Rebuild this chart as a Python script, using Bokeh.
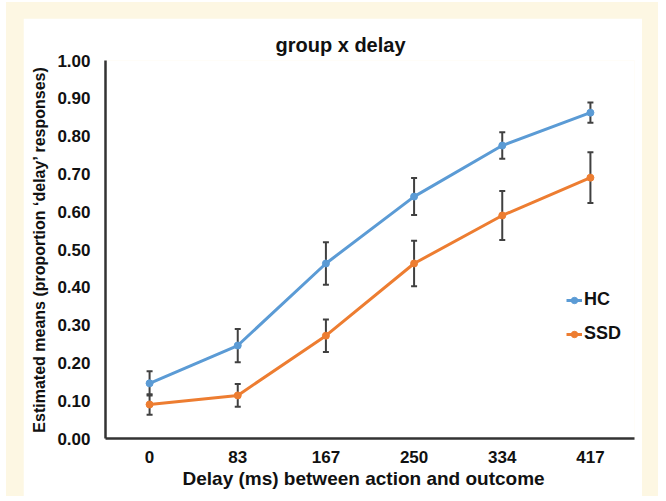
from bokeh.plotting import figure
from bokeh.models import (ColumnDataSource, Whisker, TeeHead, FactorRange, FixedTicker,
                          NumeralTickFormatter, Legend, LegendItem, Title, GlobalInlineStyleSheet)
from bokeh.layouts import column
from bokeh.embed import file_html
from bokeh.resources import INLINE

# ---- data ----
delays = ["0", "83", "167", "250", "334", "417"]
hc_means = [0.146, 0.246, 0.463, 0.640, 0.775, 0.862]
hc_err = [0.032, 0.044, 0.056, 0.049, 0.035, 0.027]
ssd_means = [0.090, 0.114, 0.272, 0.463, 0.590, 0.690]
ssd_err = [0.027, 0.030, 0.043, 0.060, 0.065, 0.067]
y_ticks = [0.0, 0.1, 0.2, 0.3, 0.4, 0.5, 0.6, 0.7, 0.8, 0.9, 1.0]
series_names = ["HC", "SSD"]

HC_COLOR = "#5B9BD5"
SSD_COLOR = "#ED7D31"
ERR_COLOR = "#404040"
CREAM = "#FDF7E3"
FONT = "Liberation Sans"
TXT = "#111111"


def make_source(means, errs):
    return ColumnDataSource(dict(
        x=delays,
        y=means,
        upper=[m + e for m, e in zip(means, errs)],
        lower=[m - e for m, e in zip(means, errs)],
    ))


hc_src = make_source(hc_means, hc_err)
ssd_src = make_source(ssd_means, ssd_err)

p = figure(
    x_range=FactorRange(factors=delays, range_padding=0),
    y_range=(0, 1),
    width=619, height=478,
    output_backend="svg", toolbar_location=None,
    min_border_left=82, min_border_right=8, min_border_top=42, min_border_bottom=58,
    background_fill_color="white", border_fill_color="white",
    outline_line_color=None,
    margin=(16, 0, 0, 17),
)

# title
p.title.text = "group x delay"
p.title.align = "left"
p.title.offset = 170
p.title.text_font = FONT
p.title.text_font_size = "20px"
p.title.text_font_style = "bold"
p.title.text_color = TXT
p.title.standoff = 10

p.xgrid.grid_line_color = None
p.ygrid.grid_line_color = None

# axes
for ax in (p.xaxis[0], p.yaxis[0]):
    ax.axis_line_color = "#333333"
    ax.axis_line_width = 2.5
    ax.major_tick_line_color = None
    ax.minor_tick_line_color = None
    ax.major_tick_out = 0
    ax.major_tick_in = 0
    ax.major_label_text_font = FONT
    ax.major_label_text_font_size = "17px"
    ax.major_label_text_font_style = "bold"
    ax.major_label_text_color = TXT

p.yaxis.ticker = FixedTicker(ticks=y_ticks)
p.yaxis.formatter = NumeralTickFormatter(format="0.00")
p.yaxis.major_label_standoff = 15
p.yaxis.axis_label = "Estimated means (proportion \u2018delay\u2019 responses)"
p.yaxis.axis_label_text_font = FONT
p.yaxis.axis_label_text_font_size = "16px"
p.yaxis.axis_label_text_font_style = "bold"
p.yaxis.axis_label_text_color = TXT
p.yaxis.axis_label_standoff = 6

p.xaxis.major_label_standoff = 12

xlab = Title(text="Delay (ms) between action and outcome", align="left", offset=77,
             text_font=FONT, text_font_size="19px", text_font_style="bold",
             text_color=TXT, standoff=0)
p.add_layout(xlab, "below")

# error bars
for src in (hc_src, ssd_src):
    w = Whisker(base="x", upper="upper", lower="lower", source=src, dimension="height",
                line_color=ERR_COLOR, line_width=2, level="underlay",
                upper_head=TeeHead(size=6, line_color=ERR_COLOR, line_width=2),
                lower_head=TeeHead(size=6, line_color=ERR_COLOR, line_width=2))
    p.add_layout(w)

# series
hc_line = p.line("x", "y", source=hc_src, line_color=HC_COLOR, line_width=3)
hc_pts = p.scatter("x", "y", source=hc_src, marker="circle", size=7,
                   fill_color=HC_COLOR, line_color=HC_COLOR)
ssd_line = p.line("x", "y", source=ssd_src, line_color=SSD_COLOR, line_width=3)
ssd_pts = p.scatter("x", "y", source=ssd_src, marker="circle", size=7,
                    fill_color=SSD_COLOR, line_color=SSD_COLOR)

legend = Legend(
    items=[LegendItem(label=series_names[0], renderers=[hc_line, hc_pts]),
           LegendItem(label=series_names[1], renderers=[ssd_line, ssd_pts])],
    location=(461, 94),
    orientation="vertical",
    padding=0, margin=0, spacing=13,
    glyph_width=16, glyph_height=20, label_height=20, label_standoff=2,
    label_text_font=FONT, label_text_font_size="18px", label_text_font_style="bold",
    label_text_color=TXT,
    border_line_color=None, background_fill_alpha=0,
)
p.add_layout(legend)

page = column(
    p, width=652, height=494, margin=(2, 0, 0, 6),
    styles={"background-color": CREAM},
    stylesheets=[GlobalInlineStyleSheet(css="html, body { overflow: hidden; }")],
)

html = file_html(page, INLINE)
open("out.html", "w").write(html)
